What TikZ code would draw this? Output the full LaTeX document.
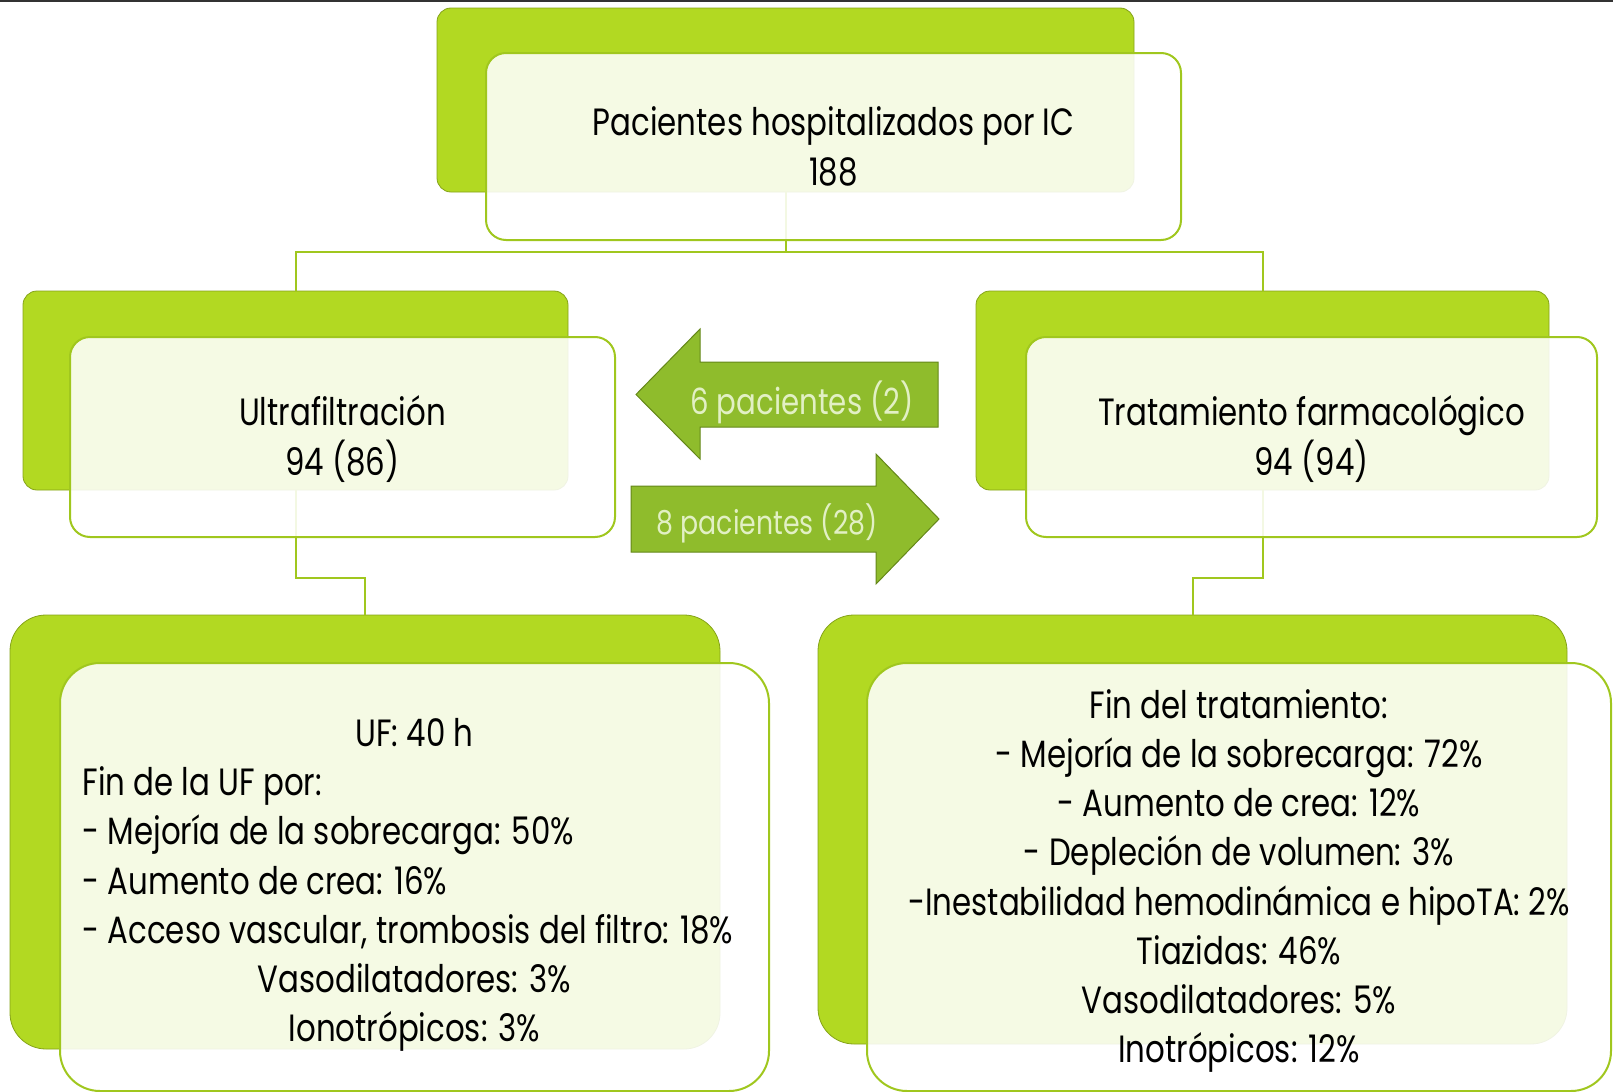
\documentclass[tikz,border=0pt]{standalone}
\usepackage{fontspec}
\setmainfont{Poppins}[FakeStretch=0.812]
\usetikzlibrary{positioning}
\definecolor{lime}{RGB}{178,217,34}
\definecolor{limeline}{RGB}{160,199,30}
\definecolor{arrowgreen}{RGB}{143,188,44}
\definecolor{arrowdark}{RGB}{100,135,25}
\definecolor{arrowtext}{RGB}{226,240,196}
\newcommand{\lline}[1]{\makebox[332pt][l]{#1}}

\begin{document}
\begin{tikzpicture}[x=0.5pt,y=-0.5pt,
  back/.style={fill=lime,draw=lime!75!black,line width=0.4pt,rounded corners=7pt,inner sep=0pt},
  front/.style={fill=white,fill opacity=0.88,draw=limeline,line width=1pt,rounded corners=10pt,inner sep=0pt},
  label/.style={align=center,inner sep=0pt,font=\fontsize{19}{24.6}\selectfont},
  link/.style={draw=limeline,line width=1pt},
  move/.style={fill=arrowgreen,draw=arrowdark,line width=0.5pt},
  movetext/.style={text=arrowtext,font=\fontsize{18}{22}\selectfont}]
  \useasboundingbox (0,0) rectangle (1613,1092);
  \draw[line width=1pt,black!80] (0,0.5) -- (1613,0.5);

  % green back plates
  \node[back,minimum width=348.5pt,minimum height=92pt] (g0) at (785.5,100) {};
  \node[back,minimum width=272.5pt,minimum height=99.5pt] (g1) at (295.5,390.5) {};
  \node[back,minimum width=286.5pt,minimum height=99.5pt] (g2) at (1262.5,390.5) {};
  \node[back,rounded corners=18pt,minimum width=355pt,minimum height=217pt] (g3) at (365,832) {};
  \node[back,rounded corners=18pt,minimum width=374.5pt,minimum height=214.5pt] (g4) at (1192.5,829.5) {};

  % links
  \draw[link] (g0.south) -- ++(0,60) coordinate (j0);
  \draw[link] (g1.north) |- (j0) -| (g2.north);
  \draw[link] (g1.south) -- ++(0,88) -| (g3.north);
  \draw[link] (g2.south) -- ++(0,88) -| (g4.north);

  % white boxes
  \node[front,minimum width=347.5pt,minimum height=93.5pt] (w0) at (833.5,146.5) {};
  \node[front,minimum width=272.5pt,minimum height=100pt] (w1) at (342.5,437) {};
  \node[front,minimum width=285.5pt,minimum height=100pt] (w2) at (1311.5,437) {};
  \node[front,rounded corners=20pt,minimum width=354.5pt,minimum height=214pt] (w3) at (414.5,877) {};
  \node[front,rounded corners=20pt,minimum width=372pt,minimum height=214pt] (w4) at (1239,877) {};

  % texts
  \node[label] (x0) at (w0.center) {Pacientes hospitalizados por IC\\188};
  \node[label] (x1) at ([yshift=-1pt]w1.center) {Ultrafiltración\\94 (86)};
  \node[label] (x2) at ([yshift=-1pt]w2.center) {Tratamiento farmacológico\\94 (94)};
  \node[label] (x3) at ([yshift=-4pt]w3.center) {UF: 40 h\\
    \lline{Fin de la UF por:}\\
    \lline{- Mejoría de la sobrecarga: 50\%}\\
    \lline{- Aumento de crea: 16\%}\\
    \lline{- Acceso vascular, trombosis del filtro: 18\%}\\
    Vasodilatadores: 3\%\\
    Ionotrópicos: 3\%};
  \node[label] (x4) at ([yshift=-2pt]w4.center) {Fin del tratamiento:\\
    - Mejoría de la sobrecarga: 72\%\\
    - Aumento de crea: 12\%\\
    - Depleción de volumen: 3\%\\
    -Inestabilidad hemodinámica e hipoTA: 2\%\\
    Tiazidas: 46\%\\
    Vasodilatadores: 5\%\\
    Inotrópicos: 12\%};

  % crossover arrows
  \draw[move] (636,394.5) -- (700,329) -- (700,362) -- (938,362) -- (938,427) -- (700,427) -- (700,459) -- cycle;
  \draw[move] (631,486) -- (876,486) -- (876,454) -- (939,519) -- (876,584) -- (876,552) -- (631,552) -- cycle;
  \node[movetext] (t1) at (802,402) {6 pacientes (2)};
  \node[movetext,font=\fontsize{16.5}{20}\selectfont] (t2) at (767,523) {8 pacientes (28)};
\end{tikzpicture}
\end{document}
